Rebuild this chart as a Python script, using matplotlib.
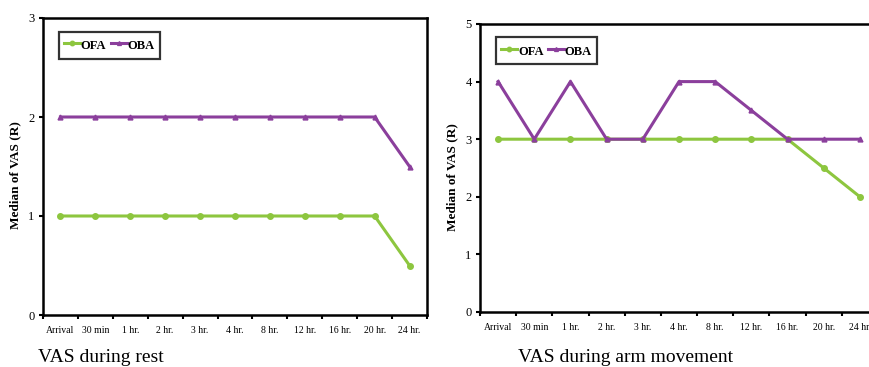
import matplotlib
matplotlib.use('Agg')
import matplotlib.pyplot as plt

plt.rcParams['font.family'] = 'Liberation Serif'

times = ['Arrival', '30 min', '1 hr.', '2 hr.', '3 hr.', '4 hr.', '8 hr.',
         '12 hr.', '16 hr.', '20 hr.', '24 hr.']

# VAS during rest
rest_ofa = [1, 1, 1, 1, 1, 1, 1, 1, 1, 1, 0.5]
rest_oba = [2, 2, 2, 2, 2, 2, 2, 2, 2, 2, 1.5]

# VAS during arm movement
move_ofa = [3, 3, 3, 3, 3, 3, 3, 3, 3, 2.5, 2]
move_oba = [4, 3, 4, 3, 3, 4, 4, 3.5, 3, 3, 3]

green = '#8DC63F'
purple = '#8B3F9C'

W, H = 869, 367
fig = plt.figure(figsize=(W / 100, H / 100), dpi=100)


def panel(box, ofa, oba, ymax, title, title_x):
    l, t, r, b = box
    ax = fig.add_axes([l / W, 1 - b / H, (r - l) / W, (b - t) / H])
    x = range(len(times))
    ax.plot(x, ofa, color=green, lw=2.2, marker='o', ms=4, label='OFA')
    ax.plot(x, oba, color=purple, lw=2.2, marker='^', ms=3.5, label='OBA')
    ax.set_xlim(-0.5, len(times) - 0.5)
    ax.set_ylim(0, ymax)
    ax.set_yticks(range(ymax + 1))
    ax.set_xticks(x)
    ax.set_xticklabels(times, fontsize=7)
    ax.set_xticks([i + 0.5 for i in range(-1, len(times))], minor=True)
    ax.tick_params(axis='x', which='major', length=0, pad=8)
    ax.tick_params(axis='x', which='minor', length=3, width=1.5, direction='out')
    ax.tick_params(axis='y', length=3, width=1.5, labelsize=9, pad=3)
    for s in ax.spines.values():
        s.set_linewidth(1.8)
    ax.set_ylabel('Median of VAS (R)', fontsize=9.5, fontweight='bold')
    ax.yaxis.set_label_coords(-22 / (r - l), 0.47)
    leg = ax.legend(loc='upper left', ncol=2, frameon=True, fancybox=False,
                    edgecolor='black', handlelength=1.3, handleheight=1.7,
                    handletextpad=0.05, columnspacing=0.35,
                    borderpad=0.4, bbox_to_anchor=(0.025, 0.975), markerscale=0.8,
                    prop={'weight': 'bold', 'size': 9})
    leg.get_frame().set_linewidth(1.6)
    fig.text(title_x / W, 1 - 357 / H, title, fontsize=14, va='center', ha='left')
    return ax


panel((43, 18, 427, 315), rest_ofa, rest_oba, 3, 'VAS during rest', 38)
panel((480, 24, 878, 312), move_ofa, move_oba, 5, 'VAS during arm movement', 518)

fig.savefig('out.png', dpi=100)
